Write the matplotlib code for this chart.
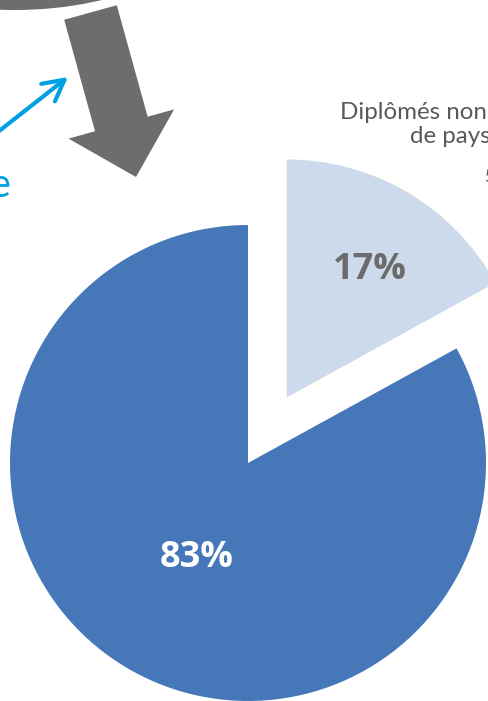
import math
import matplotlib
matplotlib.use("Agg")
from matplotlib import pyplot as plt
from matplotlib import patches

plt.rcParams['font.family'] = ['Lato', 'DejaVu Sans']

# data
labels = ["Diplômés non\nde pays", "Autres"]
shares = [17, 83]
pie_colors = ["#CDDAEB", "#4678B9"]
pct_colors = ["#6B6B6B", "white"]

W, H = 488, 701

fig = plt.figure(figsize=(W / 100, H / 100), dpi=100)
ax = fig.add_axes([0, 0, 1, 1])

radius = 238
center = (248, H - 463)
wedges, _, autotexts = ax.pie(
    shares,
    colors=pie_colors,
    startangle=90,
    counterclock=False,
    explode=[0.32 * radius, 0],
    radius=radius,
    center=center,
    autopct="%.0f%%",
    textprops=dict(fontsize=26, fontweight="bold", family=["Open Sans", "DejaVu Sans"]),
)

# put each percentage where it sits in the reference
pct_dist = [0.64, 0.455]
pct_turn = [-2.6, 2.4]
for w, t, d, a, c in zip(wedges, autotexts, pct_dist, pct_turn, pct_colors):
    mid = math.radians((w.theta1 + w.theta2) / 2 + a)
    cx, cy = w.center
    t.set_position((cx + d * radius * math.cos(mid), cy + d * radius * math.sin(mid)))
    t.set_color(c)

# decorations cut by the frame: grey shape, big grey arrow, blue pointer
ax.add_patch(patches.Ellipse((15, H + 91), 400, 202, color="#6D6D6D", lw=0))
ax.add_patch(patches.FancyArrow(90.5, H - 12.5, 45.5, -164.5, width=54.6,
                                head_width=109.6, head_length=55,
                                length_includes_head=True,
                                color="#6D6D6D", lw=0))
ax.annotate("", xy=(68, H - 77), xytext=(-20, H - 146),
            arrowprops=dict(arrowstyle="->, head_length=0.75, head_width=0.4",
                            color="#00A0E3", lw=3, mutation_scale=20,
                            shrinkA=0, shrinkB=0, capstyle="round"))
ax.text(10, H - 197, "e", color="#00A0E3", fontsize=28.5, ha="right",
        va="baseline")

# slice label, partly outside the frame
ax.text(340, H - 119, "Diplômés non", color="#595959", fontsize=17.4,
        ha="left", va="baseline")
ax.text(410, H - 143, "de pays", color="#595959", fontsize=17.4,
        ha="left", va="baseline")
ax.text(484, H - 182, "5", color="#595959", fontsize=12,
        ha="left", va="baseline")

ax.set_xlim(0, W)
ax.set_ylim(0, H)
ax.axis("off")

fig.savefig("out.png", dpi=100)
